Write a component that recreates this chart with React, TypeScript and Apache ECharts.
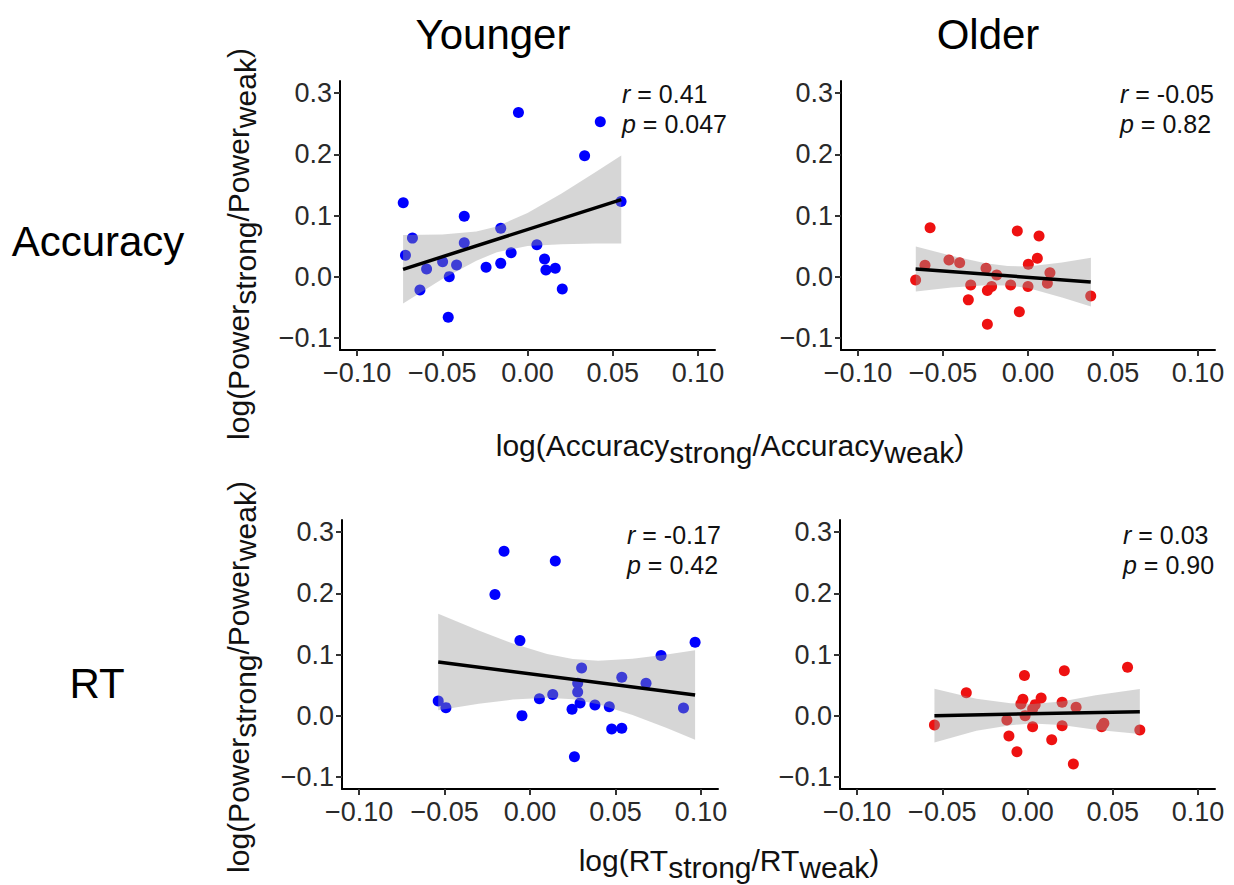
import React, { useEffect, useRef } from "react";
import * as echarts from "echarts";

// ---------- data ----------
const xTicks = [-0.1, -0.05, 0, 0.05, 0.1];
const yTicks = [-0.1, 0, 0.1, 0.2, 0.3];

// Younger / Accuracy
const youngAccX = [-0.0729, -0.0053, 0.0427, 0.0335, 0.0549, -0.0371, -0.0675, -0.0371, -0.0157, -0.0716, 0.0055, -0.0096, -0.0498, -0.0416, -0.0592, -0.0243, -0.0157, -0.0459, -0.0631, 0.0100, 0.0108, 0.0163, 0.0204, -0.0465];
const youngAccY = [0.1207, 0.2685, 0.2533, 0.1978, 0.1228, 0.0989, 0.0630, 0.0554, 0.0793, 0.0348, 0.0522, 0.0391, 0.0245, 0.0190, 0.0125, 0.0152, 0.0217, 0.0, -0.0217, 0.0288, 0.0109, 0.0136, -0.0201, -0.0663];
const youngAccFitX = [-0.073, 0.055];
const youngAccFitY = [0.012, 0.126];
const youngAccBandX = [-0.073, -0.05, -0.03, -0.018, 0.0, 0.02, 0.04, 0.055];
const youngAccBandUpper = [0.068, 0.069, 0.074, 0.082, 0.104, 0.136, 0.171, 0.198];
const youngAccBandLower = [-0.044, -0.004, 0.026, 0.040, 0.050, 0.053, 0.054, 0.054];

// Older / Accuracy
const olderAccX = [-0.0576, -0.0063, 0.0065, 0.0055, -0.0465, -0.0402, -0.0606, 0.0002, -0.0247, -0.0184, 0.0129, -0.0661, -0.0337, -0.0102, 0.0, 0.0114, -0.0214, -0.0239, -0.0351, -0.0051, 0.0369, -0.0239];
const olderAccY = [0.0799, 0.0745, 0.0663, 0.0299, 0.0272, 0.0228, 0.0185, 0.0201, 0.0136, 0.0027, 0.0065, -0.0054, -0.0136, -0.0136, -0.0163, -0.0109, -0.0163, -0.0228, -0.0380, -0.0576, -0.0315, -0.0777];
const olderAccFitX = [-0.0661, 0.0369];
const olderAccFitY = [0.0125, -0.0087];
const olderAccBandX = [-0.066, -0.045, -0.025, -0.012, 0.0, 0.02, 0.037];
const olderAccBandUpper = [0.0494, 0.0341, 0.0219, 0.0174, 0.0165, 0.023, 0.031];
const olderAccBandLower = [-0.0244, -0.0177, -0.0139, -0.0146, -0.0187, -0.034, -0.049];

// Younger / RT
const youngRtX = [-0.0152, 0.0148, -0.0205, -0.0059, 0.0966, 0.0767, 0.0302, 0.0537, 0.0679, 0.0279, 0.0279, 0.0133, 0.0055, -0.0537, -0.0492, 0.0293, 0.038, 0.0464, 0.0246, 0.0898, -0.0047, 0.0478, 0.0537, 0.026];
const youngRtY = [0.269, 0.2531, 0.198, 0.1227, 0.12, 0.0982, 0.078, 0.0627, 0.0529, 0.0529, 0.0387, 0.0344, 0.0278, 0.024, 0.0131, 0.0207, 0.0175, 0.0147, 0.0104, 0.0125, 0.0, -0.0218, -0.0207, -0.0671];
const youngRtFitX = [-0.0537, 0.0966];
const youngRtFitY = [0.0878, 0.0338];
const youngRtBandX = [-0.0537, -0.03, -0.01, 0.01, 0.025, 0.04, 0.06, 0.08, 0.0966];
const youngRtBandUpper = [0.1668, 0.1393, 0.118, 0.1007, 0.0926, 0.0899, 0.0929, 0.0998, 0.1069];
const youngRtBandLower = [0.0088, 0.0193, 0.0262, 0.0293, 0.0266, 0.0185, 0.0011, -0.0202, -0.0393];

// Older / RT
const olderRtX = [0.0587, 0.0216, -0.0018, -0.0359, 0.008, -0.0027, 0.0203, -0.0039, 0.0045, 0.0285, 0.003, -0.0121, -0.0014, -0.0546, 0.003, 0.0203, 0.0448, 0.0435, 0.0659, -0.0109, 0.0142, -0.0062, 0.0269];
const olderRtY = [0.0791, 0.0736, 0.0655, 0.0376, 0.0289, 0.0267, 0.0218, 0.0191, 0.018, 0.0136, 0.0109, -0.0071, 0.0, -0.0153, -0.018, -0.0164, -0.0125, -0.018, -0.0235, -0.0333, -0.0393, -0.0589, -0.0791];
const olderRtFitX = [-0.0546, 0.0659];
const olderRtFitY = [0.0, 0.0065];
const olderRtBandX = [-0.0546, -0.03, -0.01, 0.003, 0.02, 0.04, 0.0659];
const olderRtBandUpper = [0.044, 0.0275, 0.0204, 0.0191, 0.0232, 0.0334, 0.0436];
const olderRtBandLower = [-0.044, -0.0249, -0.0156, -0.0129, -0.0152, -0.0232, -0.030];

const stats = [
  { r: "0.41", p: "0.047" },
  { r: "-0.05", p: "0.82" },
  { r: "-0.17", p: "0.42" },
  { r: "0.03", p: "0.90" },
];

const BLUE = "#0000ff";
const RED = "#ee1111";
const FONT = "'Liberation Sans', Arial, Helvetica, sans-serif";

const panels = [
  { x: youngAccX, y: youngAccY, fx: youngAccFitX, fy: youngAccFitY, bx: youngAccBandX, bu: youngAccBandUpper, bl: youngAccBandLower, color: BLUE },
  { x: olderAccX, y: olderAccY, fx: olderAccFitX, fy: olderAccFitY, bx: olderAccBandX, bu: olderAccBandUpper, bl: olderAccBandLower, color: RED },
  { x: youngRtX, y: youngRtY, fx: youngRtFitX, fy: youngRtFitY, bx: youngRtBandX, bu: youngRtBandUpper, bl: youngRtBandLower, color: BLUE },
  { x: olderRtX, y: olderRtY, fx: olderRtFitX, fy: olderRtFitY, bx: olderRtBandX, bu: olderRtBandUpper, bl: olderRtBandLower, color: RED },
];

const grids = [
  { left: 340, top: 81, width: 375, height: 269 },
  { left: 841, top: 81, width: 374, height: 269 },
  { left: 342, top: 520, width: 376, height: 269 },
  { left: 840, top: 520, width: 375, height: 269 },
];

const statPos = [
  { x: 622, y: 94 },
  { x: 1120, y: 94 },
  { x: 627, y: 535 },
  { x: 1123, y: 535 },
];

const minus = (s: string) => s.replace("-", "\u2212");

export default function App() {
  const ref = useRef<HTMLDivElement>(null);

  useEffect(() => {
    if (!ref.current) return;
    const chart = echarts.init(ref.current, undefined, { renderer: "svg" });

    const xAxis = grids.map((_, i) => ({
      type: "value",
      gridIndex: i,
      min: -0.11,
      max: 0.11,
      splitLine: { show: false },
      axisLine: { show: true, onZero: false, lineStyle: { color: "#000", width: 2 } },
      axisTick: { show: true, customValues: xTicks, length: 6, lineStyle: { color: "#333", width: 2 } },
      axisLabel: {
        customValues: xTicks,
        formatter: (v: number) => minus(v.toFixed(2)),
        fontSize: 27,
        fontFamily: FONT,
        color: "#2a2a2a",
        margin: 9,
      },
    }));
    const yAxis = grids.map((_, i) => ({
      type: "value",
      gridIndex: i,
      min: -0.12,
      max: 0.32,
      splitLine: { show: false },
      axisLine: { show: true, onZero: false, lineStyle: { color: "#000", width: 2 } },
      axisTick: { show: true, customValues: yTicks, length: 6, lineStyle: { color: "#333", width: 2 } },
      axisLabel: {
        customValues: yTicks,
        formatter: (v: number) => minus(v.toFixed(1)),
        fontSize: 27,
        fontFamily: FONT,
        color: "#2a2a2a",
        margin: 8,
      },
    }));

    const series: any[] = [];
    panels.forEach((p, i) => {
      series.push({
        type: "scatter",
        xAxisIndex: i,
        yAxisIndex: i,
        symbolSize: 11,
        itemStyle: { color: p.color, opacity: 1 },
        data: p.x.map((v, k) => [v, p.y[k]]),
        z: 2,
      });
      series.push({
        type: "custom",
        xAxisIndex: i,
        yAxisIndex: i,
        data: [[p.bx[0], p.bu[0]]],
        z: 3,
        renderItem: (params: any, api: any) => {
          const pts: number[][] = [];
          p.bx.forEach((x, k) => pts.push(api.coord([x, p.bu[k]])));
          for (let k = p.bx.length - 1; k >= 0; k--) pts.push(api.coord([p.bx[k], p.bl[k]]));
          return {
            type: "polygon",
            shape: { points: pts },
            style: { fill: "rgba(153,153,153,0.4)", stroke: "none" },
          };
        },
      });
      series.push({
        type: "line",
        xAxisIndex: i,
        yAxisIndex: i,
        symbol: "none",
        lineStyle: { color: "#000", width: 3.5 },
        data: p.fx.map((v, k) => [v, p.fy[k]]),
        z: 4,
      });
    });

    const sub = { fontSize: 30, fontFamily: FONT, fill: "#111", padding: [15, 0, 0, 0] };
    const main = { fontSize: 30, fontFamily: FONT, fill: "#111" };
    const richTitle = (x: number, y: number, text: string, rot = 0) => ({
      type: "text",
      x,
      y,
      rotation: rot,
      style: {
        text,
        align: "center",
        verticalAlign: "middle",
        rich: { m: main, s: sub },
      },
    });

    const graphics: any[] = [
      { type: "text", x: 493, y: 34, style: { text: "Younger", fontSize: 42, fontFamily: FONT, fill: "#000", align: "center", verticalAlign: "middle" } },
      { type: "text", x: 988, y: 34, style: { text: "Older", fontSize: 42, fontFamily: FONT, fill: "#000", align: "center", verticalAlign: "middle" } },
      { type: "text", x: 98, y: 241, style: { text: "Accuracy", fontSize: 42, fontFamily: FONT, fill: "#000", align: "center", verticalAlign: "middle" } },
      { type: "text", x: 97, y: 683, style: { text: "RT", fontSize: 42, fontFamily: FONT, fill: "#000", align: "center", verticalAlign: "middle" } },
      richTitle(238, 244, "{m|log(Power}{s|strong}{m|/Power}{s|weak}{m|)}", Math.PI / 2),
      richTitle(238, 677, "{m|log(Power}{s|strong}{m|/Power}{s|weak}{m|)}", Math.PI / 2),
      richTitle(730, 445, "{m|log(Accuracy}{s|strong}{m|/Accuracy}{s|weak}{m|)}"),
      richTitle(729, 860, "{m|log(RT}{s|strong}{m|/RT}{s|weak}{m|)}"),
    ];
    stats.forEach((s, i) => {
      const pos = statPos[i];
      const it = { fontSize: 25, fontFamily: FONT, fontStyle: "italic", fill: "#111" };
      const nm = { fontSize: 25, fontFamily: FONT, fill: "#111" };
      graphics.push({
        type: "text", x: pos.x, y: pos.y,
        style: { text: `{i|r}{n| = ${s.r}}`, align: "left", verticalAlign: "middle", rich: { i: it, n: nm } },
      });
      graphics.push({
        type: "text", x: pos.x, y: pos.y + 30,
        style: { text: `{i|p}{n| = ${s.p}}`, align: "left", verticalAlign: "middle", rich: { i: it, n: nm } },
      });
    });

    chart.setOption({
      animation: false,
      backgroundColor: "#fff",
      grid: grids,
      xAxis,
      yAxis,
      series,
      graphic: graphics,
    });

    return () => chart.dispose();
  }, []);

  return <div ref={ref} style={{ position: "absolute", left: 0, top: 0, width: 1234, height: 885 }} />;
}
